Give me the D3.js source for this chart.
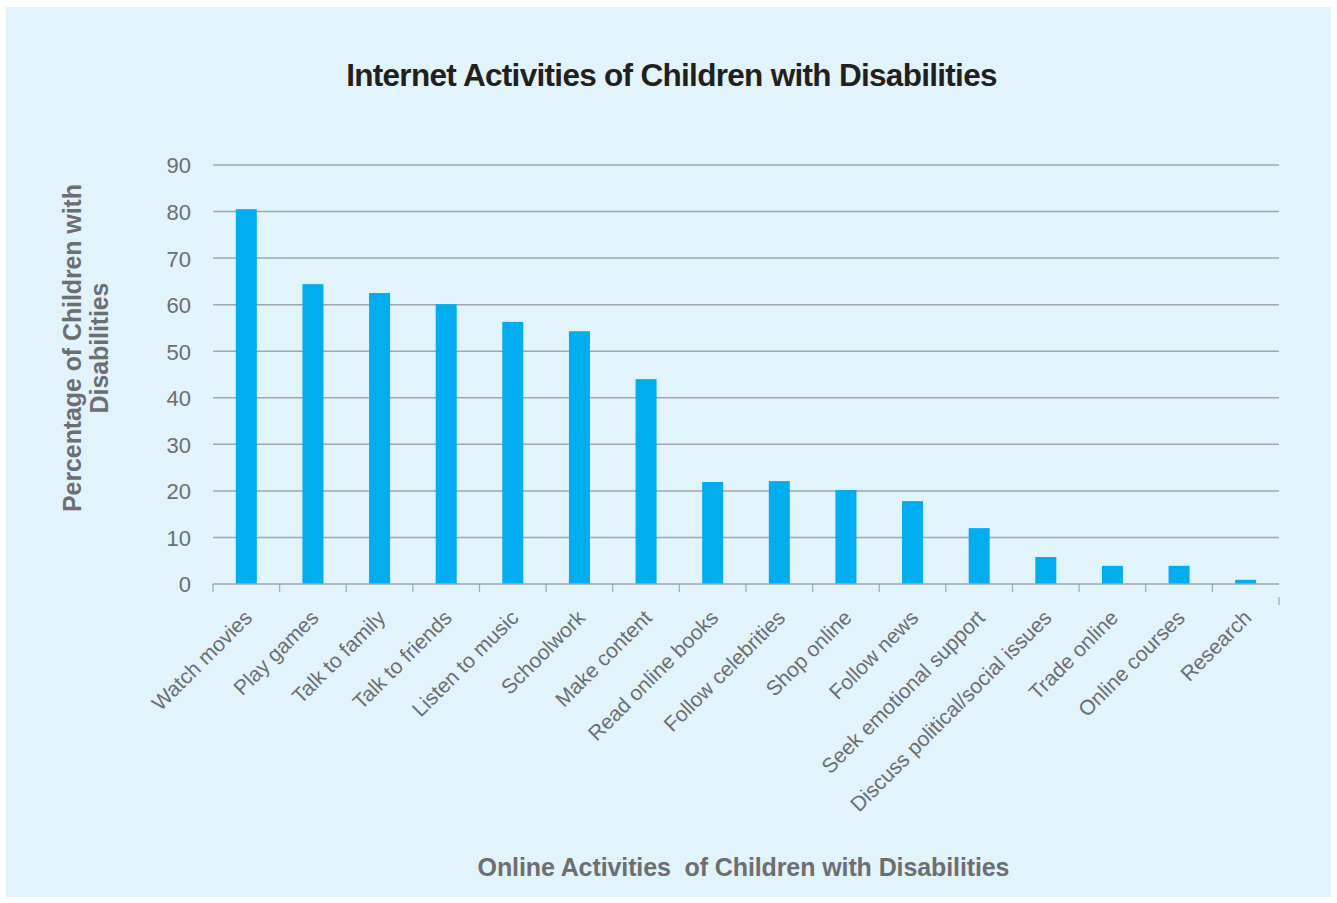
<!DOCTYPE html>
<html><head><meta charset="utf-8">
<script src="https://cdn.jsdelivr.net/npm/d3@7"></script>
<style>body{margin:0;background:#fff}svg{display:block}</style>
</head><body><svg id="c" width="1337" height="903"></svg>
<script>
const categories = ["Watch movies","Play games","Talk to family","Talk to friends","Listen to music","Schoolwork","Make content","Read online books","Follow celebrities","Shop online","Follow news","Seek emotional support","Discuss political/social issues","Trade online","Online courses","Research"];
const values = [80.5,64.4,62.5,60.1,56.3,54.3,44.0,21.9,22.1,20.2,17.8,12.0,5.8,3.9,3.9,0.9];
const yTicks = [0,10,20,30,40,50,60,70,80,90];
const title = "Internet Activities of Children with Disabilities";
const xTitle = "Online Activities  of Children with Disabilities";
const yTitleLines = ["Percentage of Children with","Disabilities"];

(function(){
const svg = d3.select("#c");
svg.append("rect").attr("x",6).attr("y",7).attr("width",1325).attr("height",890).attr("fill","#e1f3fb");

const pLeft=213, pRight=1279, pTop=165, pBottom=584;
const x = d3.scaleBand().domain(categories).range([pLeft,pRight]).paddingInner(0).paddingOuter(0);
const y = d3.scaleLinear().domain([0,90]).range([pBottom,pTop]);
const font = "Liberation Sans, Arial, sans-serif";

// gridlines
svg.append("g").selectAll("line").data(yTicks.filter(d=>d>0)).join("line")
  .attr("x1",pLeft).attr("x2",pRight).attr("y1",d=>y(d)).attr("y2",d=>y(d))
  .attr("stroke","#a3a6aa").attr("stroke-width",1.5);

// bars
const bw = 21;
svg.append("g").selectAll("rect").data(values).join("rect")
  .attr("x",(d,i)=>x(categories[i])+x.bandwidth()/2-bw/2)
  .attr("width",bw)
  .attr("y",d=>y(d)).attr("height",d=>pBottom-y(d))
  .attr("fill","#00adee");

// y axis labels
const yAxis = d3.axisLeft(y).tickValues(yTicks).tickSize(0).tickPadding(0);
const gy = svg.append("g").attr("transform",`translate(191,0)`).call(yAxis);
gy.select(".domain").remove();
gy.selectAll("text").attr("font-family",font).attr("font-size",22).attr("fill","#6d6e71").attr("dy","0.36em").attr("x",0);

// x axis
const xAxis = d3.axisBottom(x).tickSize(0).tickFormat("");
const gx = svg.append("g").attr("transform",`translate(0,${pBottom})`).call(xAxis);
gx.select(".domain").attr("stroke","#a3a6aa").attr("stroke-width",1.5).attr("d",`M${pLeft},0H${pRight}`);
gx.selectAll(".tick").remove();
const edges = categories.map(c=>x(c)).concat([pRight]);
svg.append("g").selectAll("line").data(edges).join("line")
  .attr("x1",d=>d).attr("x2",d=>d)
  .attr("y1",(d,i)=>i===edges.length-1?pBottom+13:pBottom)
  .attr("y2",(d,i)=>i===edges.length-1?pBottom+21:pBottom+8)
  .attr("stroke","#a3a6aa").attr("stroke-width",1.2);

svg.append("g").selectAll("text").data(categories).join("text")
  .attr("transform",d=>`translate(${x(d)+x.bandwidth()/2+7},${pBottom+35}) rotate(-45)`)
  .attr("text-anchor","end")
  .attr("font-family",font).attr("font-size",21).attr("fill","#6d6e71")
  .text(d=>d);

// title
svg.append("text").attr("x",671.5).attr("y",86).attr("text-anchor","middle")
  .attr("font-family",font).attr("font-weight","bold").attr("font-size",31.5)
  .attr("letter-spacing","-0.7").attr("fill","#231f20").text(title);

svg.append("text").attr("x",743.5).attr("y",876).attr("text-anchor","middle")
  .style("white-space","pre")
  .attr("font-family",font).attr("font-weight","bold").attr("font-size",25)
  .attr("letter-spacing","-0.1").attr("fill","#6d6e71").text(xTitle);

yTitleLines.forEach((l,i)=>{
  svg.append("text").attr("transform",`translate(${81+i*27},348) rotate(-90)`)
    .attr("text-anchor","middle")
    .attr("font-family",font).attr("font-weight","bold").attr("font-size",25)
    .attr("letter-spacing","-0.1").attr("fill","#6d6e71").text(l);
});
})();
</script></body></html>
